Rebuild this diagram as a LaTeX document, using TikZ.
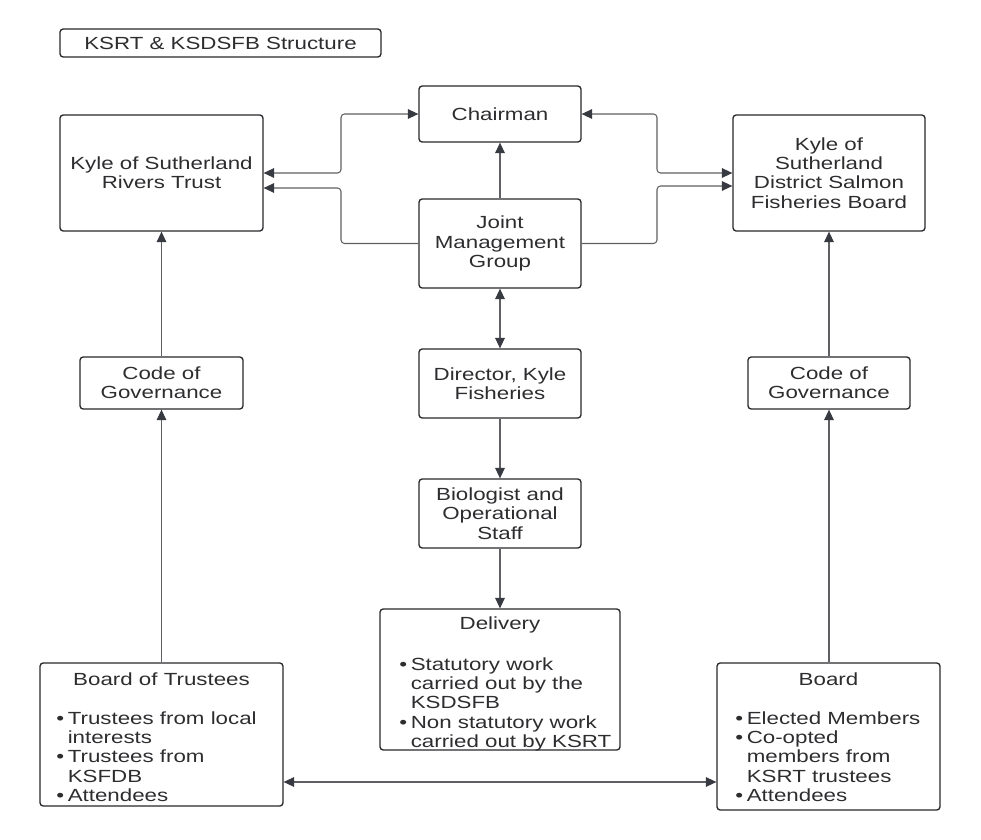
\documentclass[tikz,border=0pt]{standalone}
\usepackage{fontspec}
\setmainfont{Liberation Sans}[FakeStretch=1.27]
\usepackage{xcolor}
\usetikzlibrary{positioning,calc,arrows.meta}

\definecolor{boxline}{RGB}{40,40,44}
\definecolor{conline}{RGB}{95,95,100}
\definecolor{tipcol}{RGB}{55,58,64}
\definecolor{txtcol}{RGB}{45,45,48}

\newcommand{\bl}{\makebox[6.5pt][l]{\textbullet}}
\newcommand{\nb}{\makebox[6.5pt][l]{}}

\tikzset{
  >={Triangle[length=6pt,width=5.5pt,color=tipcol,fill=tipcol]},
  orgbox/.style={draw=boxline, line width=0.75pt, rounded corners=1.8pt,
    align=center, inner sep=0pt, text=txtcol},
  arr/.style={draw=conline, line width=0.6pt, rounded corners=2pt, ->},
  dbl/.style={draw=conline, line width=0.6pt, rounded corners=2pt, <->},
  lst/.style={align=left, inner sep=0pt, text=txtcol, anchor=north west}
}

\begin{document}
\begin{tikzpicture}[x=0.02cm,y=-0.02cm,
  font={\fontsize{10}{11.05}\selectfont}]
  \useasboundingbox (0,0) rectangle (981,839);

  % titel
  \node[orgbox, minimum width=6.42cm, minimum height=0.56cm] (title) at (220.5,43) {KSRT \& KSDSFB Structure};

  % middle column
  \node[orgbox, minimum width=3.24cm, minimum height=1.12cm] (chair) at (500,114) {Chairman};
  \node[orgbox, minimum width=3.24cm, minimum height=1.78cm] (jmg) at (500,243.5) {Joint\\Management\\Group};
  \node[orgbox, minimum width=3.24cm, minimum height=1.38cm] (dir) at (500,383.5) {Director, Kyle\\Fisheries};
  \node[orgbox, minimum width=3.24cm, minimum height=1.38cm] (bio) at (500,513.5) {Biologist and\\Operational\\Staff};
  \node[orgbox, minimum width=4.8cm, minimum height=2.82cm] (deliv) at (500,679.5) {};
  \node[text=txtcol] (delivt) at (500,625) {Delivery};
  \node[lst] (delivl) at (399,657) {\bl Statutory work\\\nb carried out by the\\\nb KSDSFB\\\bl Non statutory work\\\nb carried out by KSRT};

  % left column
  \node[orgbox, minimum width=4.06cm, minimum height=2.32cm] (ksrt) at (161.5,173) {Kyle of Sutherland\\Rivers Trust};
  \node[orgbox, minimum width=3.26cm, minimum height=1.04cm] (codel) at (161.5,383) {Code of\\Governance};
  \node[orgbox, minimum width=4.86cm, minimum height=2.86cm] (bot) at (161.5,734.5) {};
  \node[text=txtcol] (bott) at (161.5,679) {Board of Trustees};
  \node[lst] (botl) at (56,711) {\bl Trustees from local\\\nb interests\\\bl Trustees from\\\nb KSFDB\\\bl Attendees};

  % right column
  \node[orgbox, minimum width=3.84cm, minimum height=2.32cm] (ksdsfb) at (829,173) {Kyle of\\Sutherland\\District Salmon\\Fisheries Board};
  \node[orgbox, minimum width=3.24cm, minimum height=1.04cm] (coder) at (829,383) {Code of\\Governance};
  \node[orgbox, minimum width=4.46cm, minimum height=2.94cm] (brd) at (828.5,736.5) {};
  \node[text=txtcol] (brdt) at (828.5,679) {Board};
  \node[lst] (brdl) at (735,711) {\bl Elected Members\\\bl Co-opted\\\nb members from\\\nb KSRT trustees\\\bl Attendees};

  % helper points for the elbows
  \coordinate (lx) at (341,0);
  \coordinate (rx) at (657,0);
  \coordinate (lowy) at (0,782);

  % connectors
  \draw[arr] (jmg) -- (chair);
  \draw[dbl] (chair.west) -| (lx |- ksrt.east) -- (ksrt.east);
  \draw[arr] (jmg.west) -| ($(lx |- ksrt.east)+(0,15)$) -- ($(ksrt.east)+(0,15)$);
  \draw[dbl] (chair.east) -| (rx |- ksdsfb.west) -- (ksdsfb.west);
  \draw[arr] (jmg.east) -| ($(rx |- ksdsfb.west)+(0,13)$) -- ($(ksdsfb.west)+(0,13)$);
  \draw[dbl] (jmg) -- (dir);
  \draw[arr] (dir) -- (bio);
  \draw[arr] (bio) -- (deliv);
  \draw[arr] (codel) -- (ksrt);
  \draw[arr] (bot) -- (codel);
  \draw[arr] (coder) -- (ksdsfb);
  \draw[arr] (coder.south |- brd.north) -- (coder.south);
  \draw[dbl] (bot.east |- lowy) -- (brd.west |- lowy);
\end{tikzpicture}
\end{document}
